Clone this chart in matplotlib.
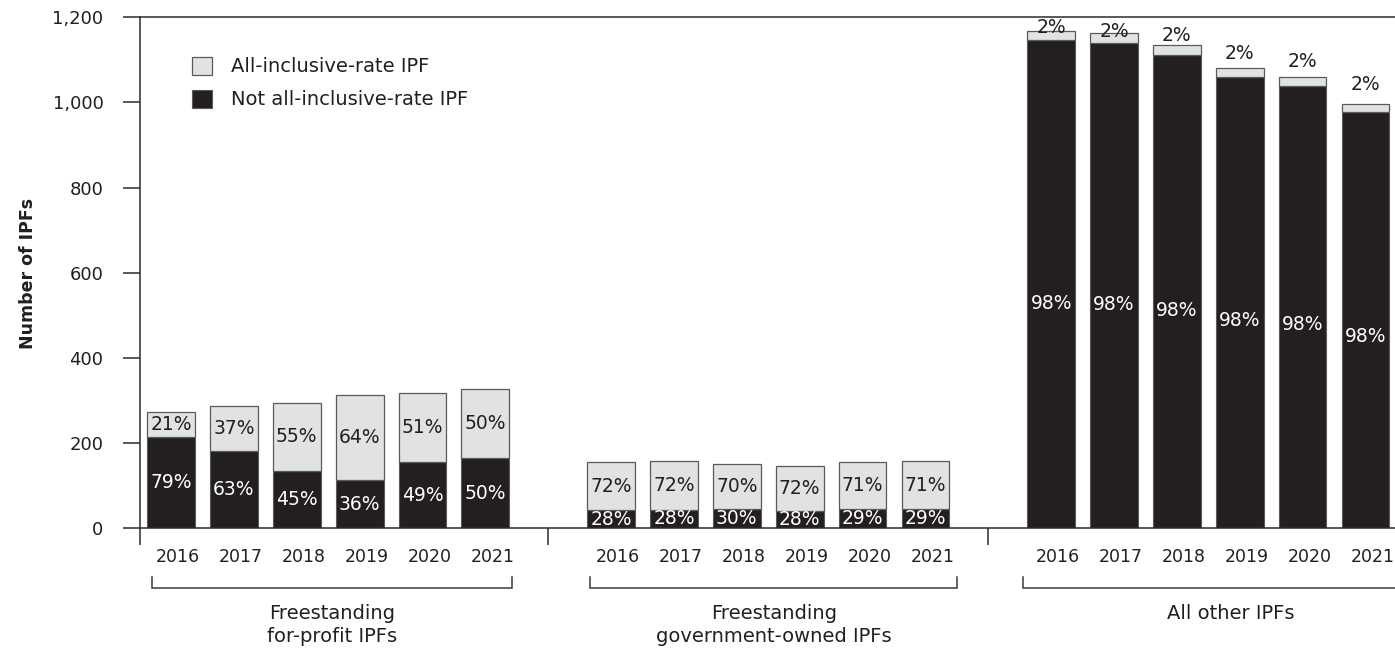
import matplotlib
matplotlib.use("Agg")
import matplotlib.pyplot as plt
from matplotlib.patches import Patch
from matplotlib.transforms import ScaledTranslation
from matplotlib.ticker import FuncFormatter

# ---- data -------------------------------------------------------------
years = ["2016", "2017", "2018", "2019", "2020", "2021"]
group_names = ["Freestanding\nfor-profit IPFs",
               "Freestanding\ngovernment-owned IPFs",
               "All other IPFs"]

# number of IPFs by year: all-inclusive-rate (AIR) and not all-inclusive-rate
for_profit_air = [57, 105, 161, 200, 161, 164]
for_profit_not_air = [215, 182, 134, 113, 156, 164]
government_air = [112, 114, 106, 106, 110, 111]
government_not_air = [43, 44, 46, 41, 45, 46]
other_air = [23, 23, 23, 22, 21, 20]
other_not_air = [1146, 1140, 1111, 1059, 1038, 977]

series_air = [for_profit_air, government_air, other_air]
series_not_air = [for_profit_not_air, government_not_air, other_not_air]

# ---- style ------------------------------------------------------------
DARK = "#231f20"
LIGHT = "#e1e2e4"
EDGE = "#5a5a5c"
TEXT = "#231f20"
FONT = "DejaVu Sans"
FS_TICK = 12.5
FS_PCT = 13.5
FS_BIG = 14

plt.rcParams["font.family"] = [FONT]
plt.rcParams["text.color"] = TEXT

W, H = 1395, 652
fig = plt.figure(figsize=(W / 100, H / 100), dpi=100)
ax = fig.add_axes([139.6 / W, 1 - 528.3 / H, (W - 139.6) / W, (528.3 - 17.3) / H])

group_starts = [0, 7, 14]
bar_w = 0.76
tick_pos = []
tick_lab = []

for g, start in enumerate(group_starts):
    xs = [start + i for i in range(len(years))]
    air = series_air[g]
    nair = series_not_air[g]
    ax.bar(xs, nair, width=bar_w, color=DARK, edgecolor=EDGE, linewidth=0.8, zorder=2)
    ax.bar(xs, air, bottom=nair, width=bar_w, color=LIGHT, edgecolor=EDGE,
           linewidth=0.9, zorder=2)
    tick_pos += xs
    tick_lab += years

    for i, x in enumerate(xs):
        total = air[i] + nair[i]
        p_air = round(100 * air[i] / total)
        p_not = round(100 * nair[i] / total)
        if g < 2:
            ax.text(x, nair[i] + air[i] / 2, f"{p_air}%", ha="center", va="center",
                    fontsize=FS_PCT, color=TEXT, zorder=3)
            ax.text(x, nair[i] / 2, f"{p_not}%", ha="center", va="center",
                    fontsize=FS_PCT, color="white", zorder=3)
        else:
            lift = [7, 4, 24, 34, 37, 45][i]
            ax.text(x, total + lift, f"{p_air}%", ha="center", va="center",
                    fontsize=FS_PCT, color=TEXT, zorder=3)
            ax.text(x, nair[i] * 0.46, f"{p_not}%", ha="center", va="center",
                    fontsize=FS_PCT, color="white", zorder=3)

# ---- axes -------------------------------------------------------------
ax.set_xlim(-0.5, 19.47)
ax.set_ylim(0, 1200)
ax.spines["right"].set_visible(False)
for s in ("left", "top", "bottom"):
    ax.spines[s].set_color("#2b2b2b")
    ax.spines[s].set_linewidth(1.1)

ax.set_yticks(range(0, 1201, 200))
ax.yaxis.set_major_formatter(FuncFormatter(lambda v, _: f"{int(v):,}"))
ax.tick_params(axis="y", length=12, width=1.1, color="#2b2b2b", pad=14,
               labelsize=FS_TICK + 0.5, labelcolor=TEXT)

ax.set_xticks(tick_pos)
ax.set_xticklabels(tick_lab)
ax.tick_params(axis="x", which="major", length=0, pad=14, labelsize=FS_TICK,
               labelcolor=TEXT)
ax.set_xticks([-0.5, 6, 13], minor=True)
ax.tick_params(axis="x", which="minor", length=12.5, width=1.1, color="#2b2b2b",
               direction="out")
shift = ScaledTranslation(7 / 100, 0, fig.dpi_scale_trans)
for lbl in ax.get_xticklabels():
    lbl.set_transform(lbl.get_transform() + shift)

# group brackets and names below the year labels
xt = ax.get_xaxis_transform()
y_top, y_bot = -0.0953, -0.1168
brackets = [(-0.30, 5.43), (6.67, 12.50), (13.55, 20.5)]
for (a, b) in brackets:
    ax.plot([a, a, b, b], [y_top, y_bot, y_bot, y_top], transform=xt,
            color="#3a3a3a", lw=1.1, clip_on=False, solid_joinstyle="miter")
name_x = [2.56, 9.59, 16.85]
for name, nx in zip(group_names, name_x):
    ax.text(nx, -0.148, name, transform=xt, ha="center", va="top",
            fontsize=FS_BIG, color=TEXT, linespacing=1.3)

fig.text(28 / W, 1 - 273 / H, "Number of IPFs", rotation=90, ha="center",
         va="center", fontsize=FS_TICK, fontweight="bold", color=TEXT)

handles = [Patch(facecolor=LIGHT, edgecolor=EDGE, linewidth=0.9),
           Patch(facecolor=DARK, edgecolor=EDGE, linewidth=0.8)]
ax.legend(handles, ["All-inclusive-rate IPF", "Not all-inclusive-rate IPF"],
          loc="upper left", bbox_to_anchor=((184 - 139.6) / (W - 139.6), (528.3 - 49) / 511),
          frameon=False, fontsize=FS_BIG, handlelength=1.05, handleheight=1.05,
          handletextpad=0.95, labelspacing=0.68, borderaxespad=0)

fig.savefig("out.png", dpi=100)
